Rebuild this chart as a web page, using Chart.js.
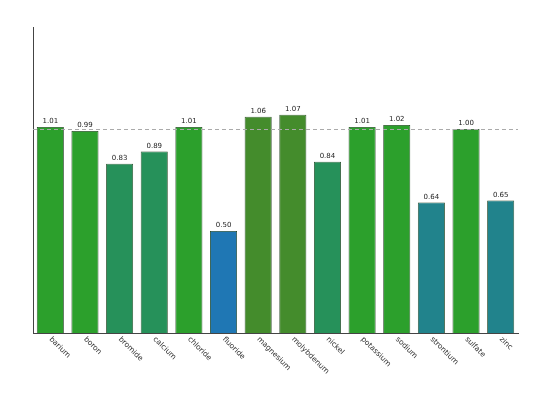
<!DOCTYPE html>
<html>
<head>
<meta charset="utf-8">
<script src="https://cdn.jsdelivr.net/npm/chart.js@4/dist/chart.umd.min.js"></script>
<style>
  html, body { margin: 0; padding: 0; background: #fff; }
  #wrap { width: 533px; height: 400px; }
</style>
</head>
<body>
<div id="wrap"><canvas id="chart" width="533" height="400"></canvas></div>
<script>
// データ
const categories = ['barium', 'boron', 'bromide', 'calcium', 'chloride', 'fluoride', 'magnesium',
    'molybdenum', 'nickel', 'potassium', 'sodium', 'strontium', 'sulfate', 'zinc'];
const ratios = [1.01, 0.99, 0.83, 0.89, 1.01, 0.50, 1.06, 1.07, 0.84, 1.01, 1.02, 0.64, 1.00, 0.65];
const refLine = 1.0;

// 色
const barColors = ['#2ca02c', '#2ca02c', '#26915a', '#26915a', '#2ca02c', '#1f77b4', '#448c2c',
    '#448c2c', '#26915a', '#2ca02c', '#2ca02c', '#21838c', '#2ca02c', '#21838c'];

// 値ラベル・基準線・斜めのカテゴリ名
const overlay = {
    id: 'overlay',
    afterDatasetsDraw(chart) {
        const ctx = chart.ctx;
        const x = chart.scales.x;
        const y = chart.scales.y;
        const area = chart.chartArea;

        // 基準線
        ctx.save();
        ctx.strokeStyle = '#aaaaaa';
        ctx.lineWidth = 1;
        ctx.setLineDash([4, 3]);
        const yRef = Math.round(y.getPixelForValue(refLine)) + 0.5;
        ctx.beginPath();
        ctx.moveTo(area.left, yRef);
        ctx.lineTo(area.right, yRef);
        ctx.stroke();
        ctx.restore();

        // 値ラベル
        const meta = chart.getDatasetMeta(0);
        ctx.save();
        ctx.font = '7px "DejaVu Sans"';
        ctx.fillStyle = '#222';
        ctx.textAlign = 'center';
        ctx.textBaseline = 'bottom';
        meta.data.forEach((bar, i) => {
            ctx.fillText(ratios[i].toFixed(2), bar.x, bar.y - 2);
        });
        ctx.restore();

        // カテゴリ名（右下がり45度）
        ctx.save();
        ctx.font = '7.5px "DejaVu Sans"';
        ctx.fillStyle = '#333';
        ctx.textAlign = 'left';
        ctx.textBaseline = 'middle';
        categories.forEach((c, i) => {
            const px = x.getPixelForTick(i);
            ctx.save();
            ctx.translate(px, area.bottom + 5);
            ctx.rotate(Math.PI / 4);
            ctx.fillText(c, 0, 0);
            ctx.restore();
        });
        ctx.restore();
    }
};

const ctx = document.getElementById('chart');
const chart = new Chart(ctx, {
    type: 'bar',
    data: {
        labels: categories,
        datasets: [{
            data: ratios,
            backgroundColor: barColors,
            borderColor: '#1a3d1a',
            borderWidth: 0.8,
            barPercentage: 0.78,
            categoryPercentage: 1.0
        }]
    },
    options: {
        responsive: false,
        animation: false,
        layout: {
            padding: { top: 27, bottom: 67, left: 33, right: 15 }
        },
        plugins: {
            legend: { display: false },
            tooltip: { enabled: false }
        },
        scales: {
            x: {
                grid: { display: false, drawTicks: false },
                border: { display: true, color: '#444', width: 1 },
                ticks: { display: false }
            },
            y: {
                min: 0,
                max: 1.5,
                grid: { display: false, drawTicks: false },
                border: { display: true, color: '#444', width: 1 },
                ticks: { display: false }
            }
        }
    },
    plugins: [overlay]
});
</script>
</body>
</html>
